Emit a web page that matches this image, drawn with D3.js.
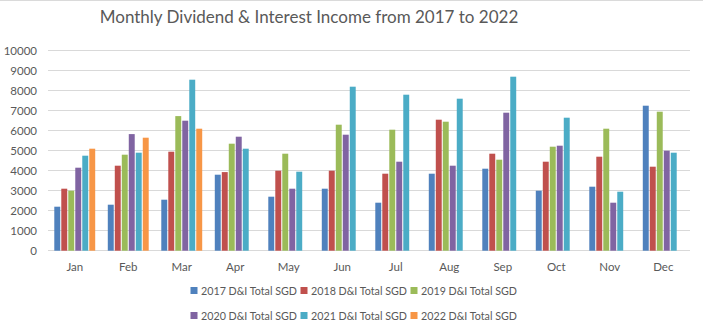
<!DOCTYPE html>
<html>
<head>
<meta charset="utf-8">
<script src="https://cdn.jsdelivr.net/npm/d3@7"></script>
<style>
  html, body { margin: 0; padding: 0; background: #fff; }
  svg { display: block; font-family: Lato, "Open Sans", sans-serif; }
</style>
</head>
<body>
<svg id="chart" width="703" height="332"></svg>
<script>
const months = ["Jan","Feb","Mar","Apr","May","Jun","Jul","Aug","Sep","Oct","Nov","Dec"];
const seriesNames = ["2017 D&I Total SGD","2018 D&I Total SGD","2019 D&I Total SGD","2020 D&I Total SGD","2021 D&I Total SGD","2022 D&I Total SGD"];
const s2017 = [2200, 2300, 2550, 3800, 2700, 3100, 2400, 3850, 4100, 3000, 3200, 7250];
const s2018 = [3100, 4250, 4950, 3930, 4000, 4000, 3850, 6550, 4850, 4450, 4700, 4200];
const s2019 = [3000, 4800, 6730, 5350, 4850, 6300, 6050, 6450, 4550, 5200, 6100, 6950];
const s2020 = [4150, 5830, 6500, 5700, 3100, 5800, 4450, 4250, 6900, 5250, 2400, 5000];
const s2021 = [4750, 4900, 8550, 5100, 3950, 8200, 7800, 7600, 8700, 6650, 2950, 4900];
const s2022 = [5100, 5650, 6100, null, null, null, null, null, null, null, null, null];
const yTicks = [0,1000,2000,3000,4000,5000,6000,7000,8000,9000,10000];
const colors = ["#4F81BD","#C0504D","#9BBB59","#8064A2","#4BACC6","#F79646"];
const title = "Monthly Dividend & Interest Income from 2017 to 2022";

(function () {
const allSeries = [s2017, s2018, s2019, s2020, s2021, s2022];
const svg = d3.select("#chart");

const mLeft = 48, mRight = 690, mTop = 50.7, mBottom = 250.7;

const x0 = d3.scaleBand().domain(months).range([mLeft, mRight]).padding(0);
const x1 = d3.scaleBand().domain(d3.range(seriesNames.length))
  .range([0, x0.bandwidth()]).paddingInner(0.15).paddingOuter(0.9);
const y = d3.scaleLinear().domain([0, 10000]).range([mBottom, mTop]);

// faint top border (spreadsheet edge)
svg.append("line").attr("x1", 0).attr("x2", 703).attr("y1", 0.5).attr("y2", 0.5)
  .attr("stroke", "#dadada").attr("stroke-width", 1);

// title
svg.append("text").attr("x", 309).attr("y", 22.5).attr("text-anchor", "middle")
  .attr("font-size", 17).attr("fill", "#595959").text(title);

// gridlines
svg.append("g").selectAll("line").data(yTicks).join("line")
  .attr("x1", mLeft).attr("x2", mRight)
  .attr("y1", d => Math.floor(y(d)) + 0.5).attr("y2", d => Math.floor(y(d)) + 0.5)
  .attr("stroke", "#d9d9d9").attr("stroke-width", 1);

// y axis labels
const yAxis = d3.axisLeft(y).tickValues(yTicks).tickSize(0).tickPadding(0).tickFormat(d3.format("d"));
const yg = svg.append("g").attr("transform", `translate(${mLeft - 11},0)`).call(yAxis);
yg.select(".domain").remove();
yg.selectAll("text").attr("font-size", 11.5).attr("fill", "#595959").attr("font-family", "Lato, sans-serif");

// bars
const data = [];
allSeries.forEach((s, si) => s.forEach((v, mi) => { if (v != null) data.push({si, mi, v}); }));
svg.append("g").selectAll("rect").data(data).join("rect")
  .attr("x", d => x0(months[d.mi]) + x1(d.si))
  .attr("width", x1.bandwidth())
  .attr("y", d => y(d.v))
  .attr("height", d => y(0) - y(d.v))
  .attr("fill", d => colors[d.si]);

// x axis labels
const xAxis = d3.axisBottom(x0).tickSize(0).tickPadding(0);
const xg = svg.append("g").attr("transform", `translate(0,${mBottom + 20})`).call(xAxis);
xg.select(".domain").remove();
xg.selectAll("text").attr("font-size", 11.5).attr("fill", "#595959").attr("font-family", "Lato, sans-serif").attr("dy", 0);

// legend
const legX = [190.5, 300.5, 410.5];
const legY = [291, 316];
const lg = svg.append("g");
seriesNames.forEach((name, i) => {
  const gx = legX[i % 3], gy = legY[Math.floor(i / 3)];
  lg.append("rect").attr("x", gx).attr("y", gy - 4).attr("width", 7).attr("height", 7).attr("fill", colors[i]);
  lg.append("text").attr("x", gx + 10.5).attr("y", gy + 4).attr("font-size", 11)
    .attr("textLength", 96).attr("lengthAdjust", "spacingAndGlyphs")
    .attr("fill", "#595959").text(name);
});
})();
</script>
</body>
</html>
